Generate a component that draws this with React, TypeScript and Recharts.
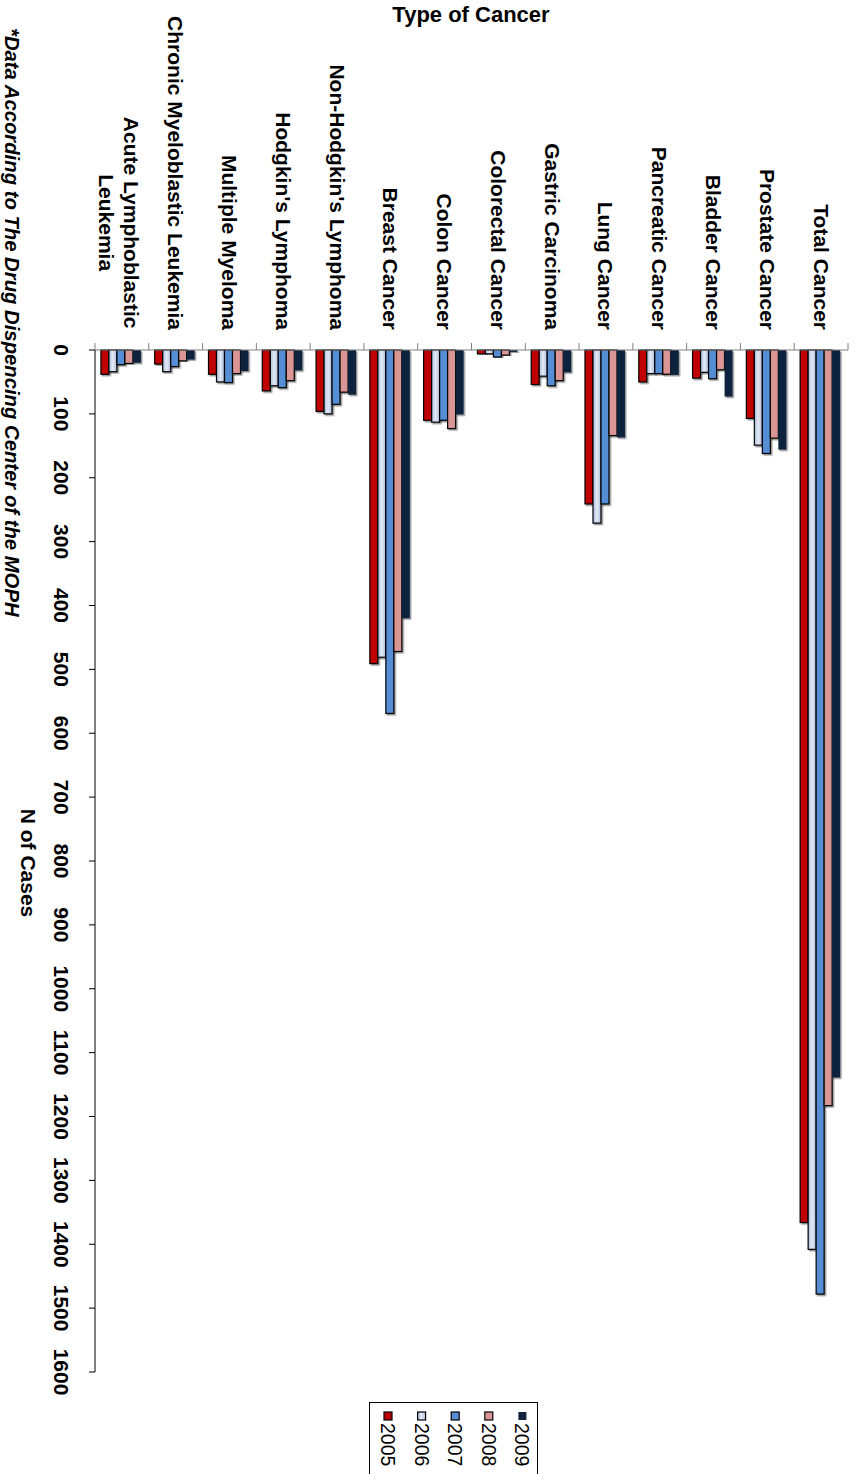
import { BarChart, Bar, XAxis, YAxis } from "recharts";

const categorias = [
  "Acute Lymphoblastic\nLeukemia",
  "Chronic Myeloblastic Leukemia",
  "Multiple Myeloma",
  "Hodgkin's Lymphoma",
  "Non-Hodgkin's Lymphoma",
  "Breast Cancer",
  "Colon Cancer",
  "Colorectal Cancer",
  "Gastric Carcinoma",
  "Lung Cancer",
  "Pancreatic Cancer",
  "Bladder Cancer",
  "Prostate Cancer",
  "Total Cancer",
];

const anos = ["2005", "2006", "2007", "2008", "2009"];

const casos2005 = [38, 22, 38, 64, 96, 491, 110, 6, 54, 241, 50, 44, 107, 1366];
const casos2006 = [34, 34, 50, 56, 100, 481, 113, 6, 41, 271, 37, 35, 149, 1408];
const casos2007 = [23, 26, 51, 59, 85, 569, 110, 11, 56, 241, 37, 45, 162, 1478];
const casos2008 = [21, 17, 37, 48, 66, 472, 123, 8, 48, 134, 38, 31, 138, 1183];
const casos2009 = [20, 15, 33, 32, 70, 420, 101, 3, 35, 137, 39, 73, 156, 1139];

const marcasEixo = [0, 100, 200, 300, 400, 500, 600, 700, 800, 900, 1000, 1100, 1200, 1300, 1400, 1500, 1600];

const cores = ["#c00000", "url(#grad2006)", "#558ed5", "#d99694", "#10243e"];
const series = [casos2005, casos2006, casos2007, casos2008, casos2009];

const dados = categorias.map((nome, i) => ({
  nome,
  y2005: casos2005[i],
  y2006: casos2006[i],
  y2007: casos2007[i],
  y2008: casos2008[i],
  y2009: casos2009[i],
}));

const FONTE = "'Liberation Sans', Arial, Helvetica, sans-serif";
const ESQ = 95;
const DIR = 848;
const TOPO = 350;
const BAND = (DIR - ESQ) / categorias.length;

function CategoryTick(props: any) {
  const { x, index, payload } = props;
  const linhas = String(payload.value).split("\n");
  const inicio = x - BAND / 2;
  const maior = Math.max(...linhas.map(l => l.length));
  return (
    <g>
      <line x1={inicio} y1={TOPO - 7} x2={inicio} y2={TOPO} stroke="#808080" />
      {index === categorias.length - 1 && (
        <line x1={inicio + BAND} y1={TOPO - 7} x2={inicio + BAND} y2={TOPO} stroke="#808080" />
      )}
      <g transform={`translate(${x},${TOPO - 20}) rotate(90)`}>
        {linhas.length === 1 ? (
          <text textAnchor="end" dominantBaseline="central" fontFamily={FONTE} fontWeight="bold" fontSize={21} fill="#000">
            {linhas[0]}
          </text>
        ) : (
          linhas.map((l, i) => (
            <text
              key={i}
              x={-(maior * 11.3) / 2}
              y={(i - 0.5) * 25 + 3}
              textAnchor="middle"
              dominantBaseline="central"
              fontFamily={FONTE}
              fontWeight="bold"
              fontSize={21}
              fill="#000"
            >
              {l}
            </text>
          ))
        )}
      </g>
    </g>
  );
}

function ValueTick(props: any) {
  const { y, payload } = props;
  return (
    <text
      transform={`translate(61,${y}) rotate(90)`}
      textAnchor="middle"
      dominantBaseline="central"
      fontFamily={FONTE}
      fontWeight="bold"
      fontSize={21}
      fill="#000"
    >
      {payload.value}
    </text>
  );
}

function BarraSombra(props: any) {
  const { x, y, width, height, fill, stroke } = props;
  if (!height) return null;
  const top = height < 0 ? y + height : y;
  return (
    <rect
      x={x}
      y={top}
      width={width}
      height={Math.abs(height)}
      fill={fill}
      stroke={stroke}
      strokeWidth={1.2}
      filter="url(#sombra)"
    />
  );
}

function Legenda() {
  return (
    <div
      style={{
        position: "absolute",
        left: 369,
        top: 1402,
        width: 169,
        height: 72,
        border: "1px solid #000",
        borderBottom: "none",
        background: "#fff",
        boxSizing: "border-box",
      }}
    >
      <svg width={169} height={72}>
        {anos.map((ano, i) => {
          const cx = 18 + i * 33.6;
          return (
            <g key={ano}>
              <rect
                x={cx - 4}
                y={9}
                width={8}
                height={8}
                fill={cores[i]}
                stroke={i === 4 ? "none" : "#000"}
                strokeWidth={1.2}
              />
              <text
                transform={`translate(${cx},20) rotate(90)`}
                textAnchor="start"
                dominantBaseline="central"
                fontFamily={FONTE}
                fontSize={19.5}
                fill="#000"
              >
                {ano}
              </text>
            </g>
          );
        })}
      </svg>
    </div>
  );
}

export default function App() {
  return (
    <div style={{ position: "absolute", left: 0, top: 0, width: 856, height: 1474, background: "#fff" }}>
      <BarChart
        width={856}
        height={1474}
        data={dados}
        margin={{ top: 0, right: 856 - DIR, bottom: 1474 - 1372, left: 0 }}
        barCategoryGap="11%"
        barGap={0}
      >
        <defs>
          <filter id="sombra" x="-50%" y="-10%" width="200%" height="120%">
            <feDropShadow dx="1.5" dy="1.5" stdDeviation="0.6" floodColor="#000" floodOpacity="0.4" />
          </filter>
          <linearGradient id="grad2006" x1="0" y1="0" x2="1" y2="0">
            <stop offset="0%" stopColor="#a9bbdc" />
            <stop offset="50%" stopColor="#e4eaf5" />
            <stop offset="100%" stopColor="#a9bbdc" />
          </linearGradient>
        </defs>
        <XAxis
          dataKey="nome"
          orientation="top"
          height={TOPO}
          interval={0}
          tickLine={false}
          axisLine={{ stroke: "#808080" }}
          tick={<CategoryTick />}
        />
        <YAxis
          type="number"
          domain={[0, 1600]}
          ticks={marcasEixo}
          reversed
          width={ESQ}
          tickSize={6}
          tickLine={{ stroke: "#000" }}
          axisLine={{ stroke: "#000" }}
          tick={<ValueTick />}
          interval={0}
        />
        {series.map((_, i) => (
          <Bar
            key={anos[i]}
            dataKey={`y${anos[i]}`}
            name={anos[i]}
            fill={cores[i]}
            stroke={i === 4 ? "none" : "#000"}
            shape={<BarraSombra />}
            isAnimationActive={false}
          />
        ))}
      </BarChart>
      <svg
        width={856}
        height={1474}
        style={{ position: "absolute", left: 0, top: 0, pointerEvents: "none" }}
      >
        <text x={471} y={14} textAnchor="middle" dominantBaseline="central" fontFamily={FONTE} fontWeight="bold" fontSize={22}>
          Type of Cancer
        </text>
        <text
          transform="translate(28,863) rotate(90)"
          textAnchor="middle"
          dominantBaseline="central"
          fontFamily={FONTE}
          fontWeight="bold"
          fontSize={21}
        >
          N of Cases
        </text>
        <text
          transform="translate(12,28) rotate(90)"
          textAnchor="start"
          dominantBaseline="central"
          fontFamily={FONTE}
          fontWeight="bold"
          fontStyle="italic"
          fontSize={20.3}
        >
          *Data According to The Drug Dispencing Center of the MOPH
        </text>
      </svg>
      <Legenda />
    </div>
  );
}
